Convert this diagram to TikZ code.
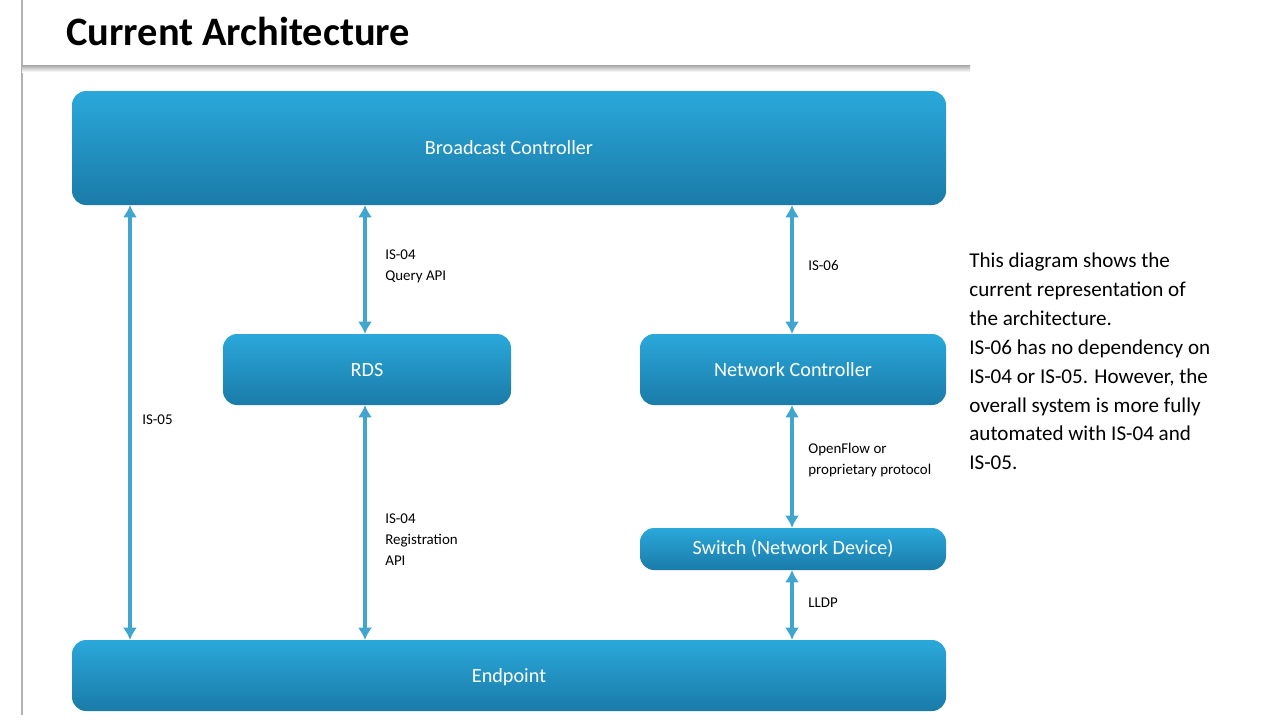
\documentclass[tikz,border=0pt]{standalone}
\usepackage{fontspec}
\setmainfont{Carlito}
\usetikzlibrary{arrows.meta}
\definecolor{btop}{HTML}{2AA8DA}
\definecolor{bbot}{HTML}{1A7BA8}
\definecolor{arr}{HTML}{41A6CF}
\tikzset{
 box/.style={rounded corners=8pt, top color=btop, bottom color=bbot, draw=none, text=white, font=\fontsize{11.5}{13}\selectfont},
 link/.style={arr, line width=2.3pt, {Latex[length=7pt,width=8pt]}-{Latex[length=7pt,width=8pt]}},
 lbl/.style={anchor=north west, align=left, font=\fontsize{8.5}{12}\selectfont, inner sep=0pt}
}
\begin{document}
\begin{tikzpicture}[x=0.02cm,y=-0.02cm]
\useasboundingbox (0,0) rectangle (1280,720);
\draw[gray!60, line width=0.6pt] (22,0) -- (22,715);
\shade[top color=gray!70, bottom color=white] (22,65) rectangle (970,72);
\node[anchor=west, inner sep=0pt, font=\fontsize{23}{26}\selectfont\bfseries] (title) at (66,31) {Current Architecture};
\path[box] (72,91) rectangle (946,205); \node[text=white,font=\fontsize{11.5}{13}\selectfont] (bc) at (509,148) {Broadcast Controller};
\coordinate (bcA) at (130,205); \coordinate (bcB) at (365,205); \coordinate (bcC) at (792,205);
\path[box] (223,334) rectangle (511,405); \node[text=white,font=\fontsize{11.5}{13}\selectfont] (rds) at (367,370) {RDS};
\path[box] (640,334) rectangle (946,405); \node[text=white,font=\fontsize{11.5}{13}\selectfont] (nc) at (793,370) {Network Controller};
\path[box] (640,528) rectangle (946,570); \node[text=white,font=\fontsize{11.5}{13}\selectfont] (sw) at (793,549) {Switch (Network Device)};
\path[box] (72,640) rectangle (946,711); \node[text=white,font=\fontsize{11.5}{13}\selectfont] (ep) at (509,677) {Endpoint};
\coordinate (rdsT) at (365,334); \coordinate (rdsB) at (365,405);
\coordinate (ncT) at (792,334); \coordinate (ncB) at (792,405);
\coordinate (swT) at (792,528); \coordinate (swB) at (792,570);
\coordinate (epA) at (130,640); \coordinate (epB) at (365,640); \coordinate (epC) at (792,640);
\draw[link] (bcA) -- (epA);
\draw[link] (bcB) -- (rdsT);
\draw[link] (rdsB) -- (epB);
\draw[link] (bcC) -- (ncT);
\draw[link] (ncB) -- (swT);
\draw[link] (swB) -- (epC);
\node[lbl] (l1) at (142,414) {IS-05};
\node[lbl] (l2) at (385,249) {IS-04\\Query API};
\node[lbl] (l3) at (808,260) {IS-06};
\node[lbl] (l4) at (808,443) {OpenFlow or\\proprietary protocol};
\node[lbl] (l5) at (385,513) {IS-04\\Registration\\API};
\node[lbl] (l6) at (808,598) {LLDP};
\node[anchor=north west, align=left, inner sep=0pt, font=\fontsize{12}{16.4}\selectfont] (note) at (969,253) {This diagram shows the\\current representation of\\the architecture.\\IS-06 has no dependency on\\IS-04 or IS-05. However, the\\overall system is more fully\\automated with IS-04 and\\IS-05.};
\end{tikzpicture}
\end{document}
